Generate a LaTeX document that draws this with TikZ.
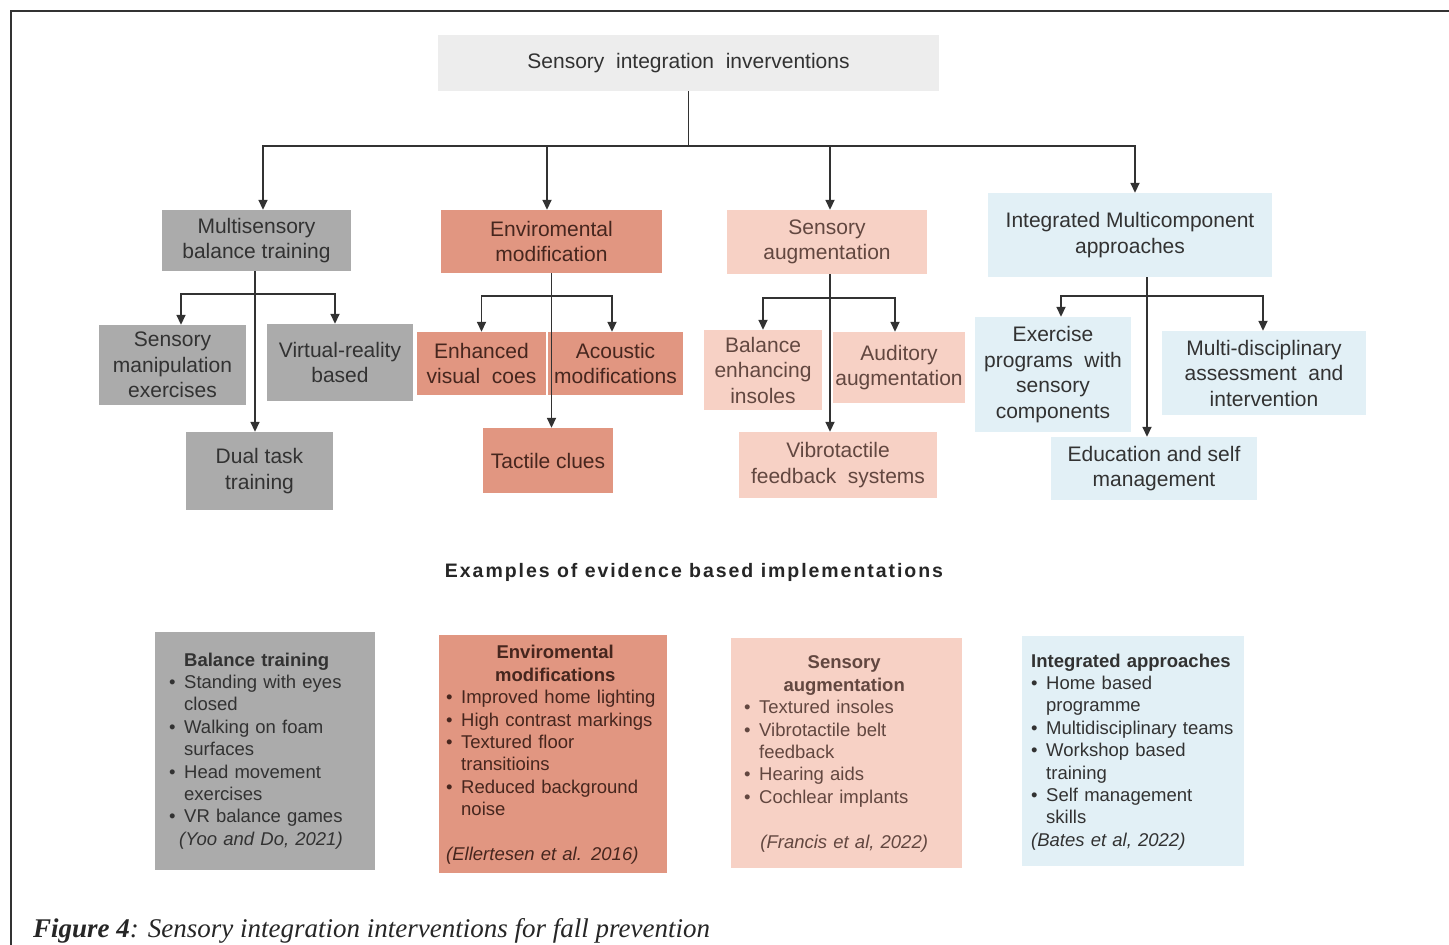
\documentclass[tikz,border=0pt]{standalone}
\usepackage{fontspec}
\setmainfont{Liberation Sans}
\newfontfamily\capfont{Liberation Serif}
\newfontfamily\headfont[LetterSpace=10]{Liberation Sans}
\usetikzlibrary{arrows.meta}

\definecolor{topfill}{RGB}{237,237,237}
\definecolor{grayfill}{RGB}{171,171,171}
\definecolor{salmonfill}{RGB}{225,150,129}
\definecolor{pinkfill}{RGB}{247,209,197}
\definecolor{bluefill}{RGB}{226,240,246}
\definecolor{linec}{RGB}{50,50,50}
\definecolor{txtc}{RGB}{50,50,50}
\definecolor{brownt}{RGB}{70,38,30}

\newcommand\boxfont{\fontsize{21}{25.5}\selectfont}
\newcommand\listfont{\fontsize{18.5}{22.4}\selectfont}
% bullet item with hanging indent; use \newline for forced breaks
\newcommand\bpt[1]{\par\noindent\hangindent=15pt\hangafter=1\makebox[15pt][l]{\textbullet}#1\par}

\begin{document}
\begin{tikzpicture}[x=1pt,y=-1pt,
  cat/.style={rectangle, inner sep=2pt, align=center, font=\boxfont, text=txtc},
  exbox/.style={rectangle, inner sep=0pt},
  extext/.style={anchor=west, inner sep=0pt, align=left, font=\listfont, text=txtc},
  arr/.style={draw=linec, line width=1.7pt, -{Triangle[width=9pt,length=10pt]}},
  ln/.style={draw=linec, line width=1.7pt}]

\useasboundingbox (0,0) rectangle (1449,945);
\fill[white] (0,0) rectangle (1449,945);

% outer frame
\coordinate (fa) at (11,945);
\coordinate (fb) at (11,11);
\coordinate (fc) at (1449,11);
\draw[line width=2.2pt, black!80] (fa) -- (fb) -- (fc);

% root
\node[cat, fill=topfill, minimum width=501, minimum height=56] (root) at (688.5,63) {Sensory\ \ integration\ \ inverventions};

% first level
\node[cat, fill=grayfill, minimum width=189, minimum height=61] (mb) at (256.5,240.5) {Multisensory\\balance training};
\node[cat, fill=salmonfill, text=brownt, minimum width=221, minimum height=63] (em) at (551.5,241.5) {Enviromental\\modification};
\node[cat, fill=pinkfill, text=brownt!85, minimum width=200, minimum height=64] (sa) at (827,242) {Sensory\\augmentation};
\node[cat, fill=bluefill, minimum width=284, minimum height=84] (ia) at (1130,235) {Integrated Multicomponent\\approaches};

% second level: column 1
\node[cat, fill=grayfill, minimum width=147, minimum height=80] (sm) at (172.5,365) {Sensory\\manipulation\\exercises};
\node[cat, fill=grayfill, minimum width=146, minimum height=77] (vr) at (340,362.5) {Virtual-reality\\based};
\node[cat, fill=grayfill, minimum width=147, minimum height=78] (dt) at (259.5,471) {Dual task\\training};

% column 2
\node[cat, fill=salmonfill, text=brownt, minimum width=129, minimum height=63] (ev) at (481.5,363.5) {Enhanced\\visual\ \ coes};
\node[cat, fill=salmonfill, text=brownt, minimum width=135, minimum height=63] (am) at (615.5,363.5) {Acoustic\\modifications};
\node[cat, fill=salmonfill, text=brownt, minimum width=130, minimum height=65] (tc) at (548,460.5) {Tactile clues};

% column 3
\node[cat, fill=pinkfill, text=brownt!85, minimum width=118, minimum height=80] (be) at (763,370) {Balance\\enhancing\\insoles};
\node[cat, fill=pinkfill, text=brownt!85, minimum width=128, minimum height=71] (aa) at (899,367.5) {Auditory\\augmentation};
\node[cat, fill=pinkfill, text=brownt!85, minimum width=198, minimum height=66] (vf) at (838,465) {Vibrotactile\\feedback\ \ systems};

% column 4
\node[cat, fill=bluefill, minimum width=156, minimum height=115] (ep) at (1053,374.5) {Exercise\\programs\ \ with\\sensory\\components};
\node[cat, fill=bluefill, minimum width=204, minimum height=84] (md) at (1264,373) {Multi-disciplinary\\assessment\ \ and\\intervention};
\node[cat, fill=bluefill, minimum width=206, minimum height=63] (es) at (1154,468.5) {Education and self\\management};

% connectors from the root
\coordinate (bus) at (688.5,146);
\draw[ln] (root.south) -- (bus);
\draw[arr] (bus) -| ([xshift=6.5pt]mb.north);
\draw[arr] (bus) -| ([xshift=-4.5pt]em.north);
\draw[arr] (bus) -| ([xshift=3pt]sa.north);
\draw[arr] (bus) -| ([xshift=5pt]ia.north);

% column 1 connectors
\coordinate (j1) at (255,294);
\draw[arr] ([xshift=-1.5pt]mb.south) -- ([xshift=-1.5pt]mb.south |- dt.north);
\draw[arr] (j1) -| ([xshift=8.5pt]sm.north);
\draw[arr] (j1) -| ([xshift=-5pt]vr.north);

% column 2 connectors
\coordinate (j2) at (551,296);
\draw[arr] (em.south) -- (em.south |- tc.north);
\draw[arr] (j2) -| (ev.north);
\draw[arr] (j2) -| ([xshift=-3.5pt]am.north);

% column 3 connectors
\coordinate (j3) at (830,298);
\draw[arr] ([xshift=3pt]sa.south) -- ([xshift=3pt]sa.south |- vf.north);
\draw[arr] (j3) -| (be.north);
\draw[arr] (j3) -| ([xshift=-4pt]aa.north);

% column 4 connectors
\coordinate (j4) at (1147,296);
\draw[arr] ([xshift=17pt]ia.south) -- ([xshift=17pt]ia.south |- es.north);
\draw[arr] (j4) -| ([xshift=8pt]ep.north);
\draw[arr] (j4) -| ([xshift=-1pt]md.north);

% section heading
\node[inner sep=0pt, font=\headfont\bfseries\fontsize{19.5}{23}\selectfont, text=black!85] (hd) at (694,572) {Examples of evidence based implementations};

% example boxes
\node[exbox, fill=grayfill, minimum width=220, minimum height=238] (b1) at (265,751) {};
\node[exbox, fill=salmonfill, minimum width=228, minimum height=238] (b2) at (553,754) {};
\node[exbox, fill=pinkfill, minimum width=231, minimum height=230] (b3) at (846.5,753) {};
\node[exbox, fill=bluefill, minimum width=222, minimum height=230] (b4) at (1133,751) {};

\node[extext, text width=204] (t1) at (169,751) {%
  {\leftskip=15pt\noindent\textbf{Balance training}\par}
  \bpt{Standing with eyes\newline closed}
  \bpt{Walking on foam\newline surfaces}
  \bpt{Head movement\newline exercises}
  \bpt{VR balance games}
  \noindent\hspace*{10pt}\textit{(Yoo and Do, 2021)}};

\node[extext, text width=218, text=brownt] (t2) at (446,755) {%
  {\centering\textbf{Enviromental}\\\textbf{modifications}\par}
  \raggedright
  \bpt{Improved home lighting}
  \bpt{High contrast markings}
  \bpt{Textured floor\newline transitioins}
  \bpt{Reduced background\newline noise}
  \vspace{22.4pt}
  \noindent\textit{(Ellertesen et al. 2016)}};

\node[extext, text width=200, text=brownt!85] (t3) at (744,754) {%
  {\centering\textbf{Sensory}\\\textbf{augmentation}\par}
  \raggedright
  \bpt{Textured insoles}
  \bpt{Vibrotactile belt\newline feedback}
  \bpt{Hearing aids}
  \bpt{Cochlear implants}
  \vspace{22.4pt}
  {\centering\textit{(Francis et al, 2022)}\par}};

\node[extext, text width=212] (t4) at (1031,752) {%
  \noindent\textbf{Integrated approaches}\par
  \bpt{Home based\newline programme}
  \bpt{Multidisciplinary teams}
  \bpt{Workshop based\newline training}
  \bpt{Self management\newline skills}
  \noindent\textit{(Bates et al, 2022)}};

% caption
\node[anchor=base west, inner sep=0pt, font=\capfont\fontsize{27}{32}\selectfont, text=black!85] (cap) at (33,937)
  {\textbf{\textit{Figure 4}}\textit{: Sensory integration interventions for fall prevention}};

\end{tikzpicture}
\end{document}
